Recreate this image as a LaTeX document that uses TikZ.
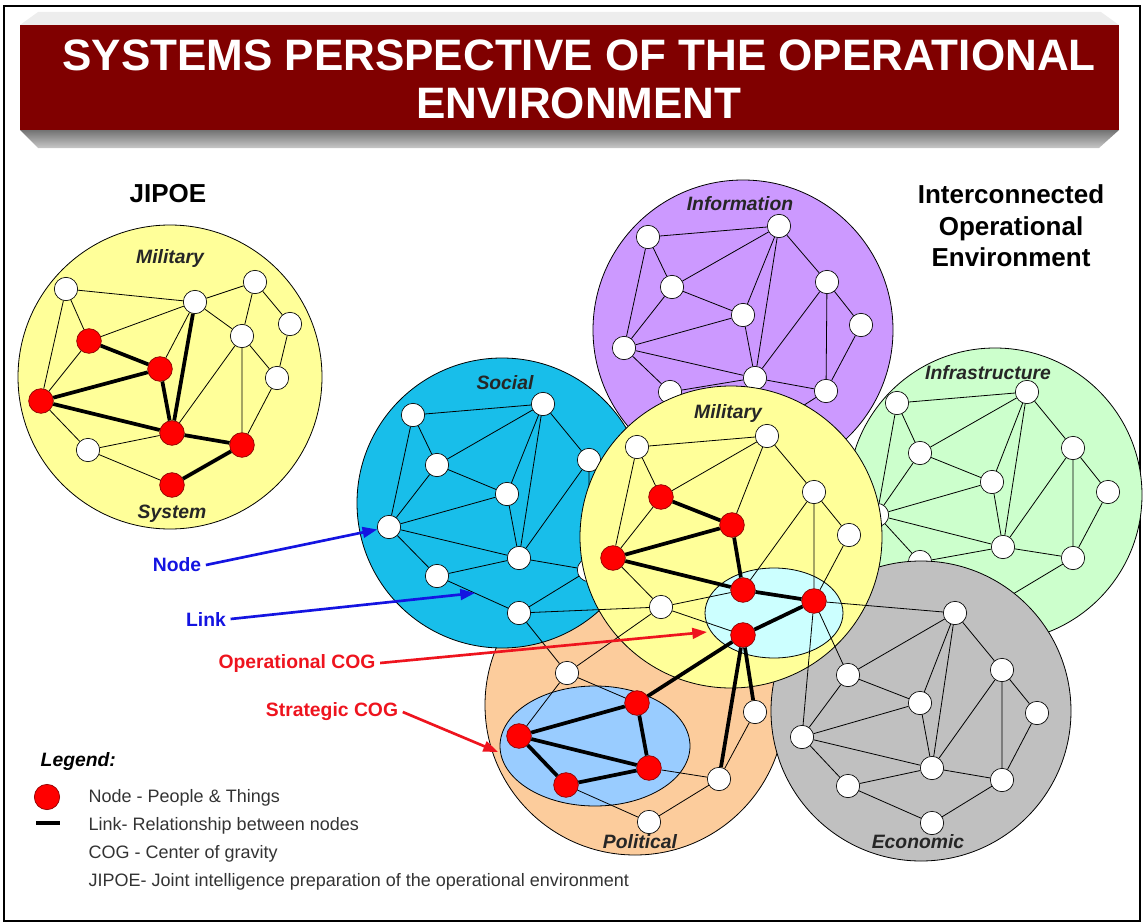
\documentclass[tikz,border=0pt]{standalone}
\usepackage{fontspec}
\setmainfont{Liberation Sans}
\usetikzlibrary{arrows.meta}
\usetikzlibrary{positioning}
\definecolor{banner_red}{RGB}{128,0,0}
\definecolor{mil_yellow}{RGB}{255,255,153}
\definecolor{info_purple}{RGB}{204,153,255}
\definecolor{soc_blue}{RGB}{24,190,234}
\definecolor{infra_green}{RGB}{204,255,204}
\definecolor{pol_orange}{RGB}{252,204,156}
\definecolor{eco_grey}{RGB}{192,192,192}
\definecolor{op_cyan}{RGB}{204,255,255}
\definecolor{strat_blue}{RGB}{153,204,255}
\definecolor{pointer_blue}{RGB}{20,20,225}
\definecolor{pointer_red}{RGB}{238,20,30}
\tikzstyle{white_node} = [
    circle,
    draw=black,
    fill=white,
    line width=0.5pt,
    inner sep=0pt,
    minimum size=17.5pt
]
\tikzstyle{red_node} = [
    circle,
    draw=red!55!black,
    fill=red,
    line width=0.5pt,
    inner sep=0pt,
    minimum size=18.5pt
]
\tikzstyle{thin_link} = [line width=0.6pt]
\tikzstyle{thick_link} = [line width=2.8pt]
\tikzstyle{sys_circle} = [draw=black, line width=0.6pt]
\tikzstyle{sys_name} = [
    font=\fontsize{14.5}{17}\selectfont\bfseries\itshape,
    text=black!85
]
\tikzstyle{heading} = [
    font=\fontsize{19.5}{23.6}\selectfont\bfseries,
    align=center
]
\tikzstyle{banner_text} = [
    white,
    font=\fontsize{33}{36}\selectfont\bfseries,
    align=center
]
\tikzstyle{blue_label} = [text=pointer_blue, font=\fontsize{14.5}{17}\selectfont\bfseries]
\tikzstyle{red_label} = [text=pointer_red, font=\fontsize{14.5}{17}\selectfont\bfseries]
\tikzstyle{blue_pointer} = [draw=pointer_blue, line width=2pt, -{Triangle[length=11pt, width=8pt]}]
\tikzstyle{red_pointer} = [draw=pointer_red, line width=2pt, -{Triangle[length=11pt, width=8pt]}]
\tikzstyle{legend_text} = [
    anchor=west,
    text=black!80,
    font=\fontsize{13.5}{16}\selectfont
]

\begin{document}
\begin{tikzpicture}[x=0.75pt, y=-0.75pt]
\useasboundingbox (0,0) rectangle (1143,924);
\draw[line width=0.8pt] (4,6) rectangle (1140,921);

% title banner
\fill[black!7] (20,25) -- (38,12) -- (1101,12) -- (1119,25) -- cycle;
\shade[top color=black!55, bottom color=black!22] (20,130) -- (1119,130) -- (1099,148) -- (38,148) -- cycle;
\fill[banner_red] (20,25) rectangle (1119,130);
\node[banner_text] (title) at (579,79) {SYSTEMS PERSPECTIVE OF THE OPERATIONAL\\ENVIRONMENT};

% infrastructure
\draw[sys_circle, fill=infra_green] (995,495) circle [radius=147];
\node[sys_name] (infra_name) at (988,373) {Infrastructure};
\node[white_node] (infra_tl) at (897,403) {};
\node[white_node] (infra_t) at (1027,392) {};
\node[white_node] (infra_s) at (920,453) {};
\node[white_node] (infra_r1) at (1073,448) {};
\node[white_node] (infra_m) at (992,482) {};
\node[white_node] (infra_r2) at (1108,492) {};
\node[white_node] (infra_l) at (877,515) {};
\node[white_node] (infra_b) at (1003,547) {};
\node[white_node] (infra_r3) at (1073,558) {};
\node[white_node] (infra_bl) at (920,562) {};
\node[white_node] (infra_bb) at (1003,600) {};
\draw[thin_link] (infra_tl) -- (infra_t) (infra_tl) -- (infra_s) (infra_tl) -- (infra_l)
    (infra_s) -- (infra_t) (infra_s) -- (infra_m) (infra_s) -- (infra_l)
    (infra_t) -- (infra_m) (infra_t) -- (infra_b) (infra_t) -- (infra_r1)
    (infra_r1) -- (infra_r2) (infra_r1) -- (infra_r3) (infra_r1) -- (infra_b) (infra_r2) -- (infra_r3)
    (infra_m) -- (infra_l) (infra_m) -- (infra_b) (infra_l) -- (infra_b) (infra_l) -- (infra_bl)
    (infra_bl) -- (infra_b) (infra_b) -- (infra_r3) (infra_bl) -- (infra_bb) (infra_r3) -- (infra_bb);

% information
\draw[sys_circle, fill=info_purple] (743,330) circle [radius=150];
\node[sys_name] (info_name) at (740,204) {Information};
\node[white_node] (info_tl) at (648,237) {};
\node[white_node] (info_t) at (779,226) {};
\node[white_node] (info_s) at (672,287) {};
\node[white_node] (info_r1) at (827,282) {};
\node[white_node] (info_m) at (743,315) {};
\node[white_node] (info_r2) at (861,325) {};
\node[white_node] (info_l) at (624,348) {};
\node[white_node] (info_b) at (755,378) {};
\node[white_node] (info_r3) at (826,391) {};
\node[white_node] (info_bl) at (670,392) {};
\node[white_node] (info_bb) at (756,436) {};
\draw[thin_link] (info_tl) -- (info_t) (info_tl) -- (info_s) (info_tl) -- (info_l)
    (info_s) -- (info_t) (info_s) -- (info_m) (info_s) -- (info_l)
    (info_t) -- (info_m) (info_t) -- (info_b) (info_t) -- (info_r1)
    (info_r1) -- (info_r2) (info_r1) -- (info_r3) (info_r1) -- (info_b) (info_r2) -- (info_r3)
    (info_m) -- (info_l) (info_m) -- (info_b) (info_l) -- (info_b) (info_l) -- (info_bl)
    (info_bl) -- (info_b) (info_b) -- (info_r3) (info_bl) -- (info_bb) (info_r3) -- (info_bb);

% political
\draw[sys_circle, fill=pol_orange] (635,705) circle [radius=150];
\draw[sys_circle, fill=strat_blue] (595,746) ellipse [x radius=95, y radius=60];
\node[sys_name] (pol_name) at (640,842) {Political};
\node[white_node] (pol_w1) at (567,673) {};
\node[white_node] (pol_w2) at (755,712) {};
\node[white_node] (pol_w3) at (719,779) {};
\node[white_node] (pol_w4) at (649,822) {};
\node[red_node] (pol_r1) at (637,703) {};
\node[red_node] (pol_r2) at (519,736) {};
\node[red_node] (pol_r3) at (649,768) {};
\node[red_node] (pol_r4) at (566,785) {};
\draw[thin_link] (pol_w1) -- (pol_r1) (pol_w1) -- (pol_r2) (pol_r3) -- (pol_w3)
    (pol_w3) -- (pol_w2) (pol_w3) -- (pol_w4) (pol_w4) -- (pol_r4);
\draw[thick_link] (pol_r1) -- (pol_r2) (pol_r1) -- (pol_r3) (pol_r2) -- (pol_r3)
    (pol_r2) -- (pol_r4) (pol_r4) -- (pol_r3);

% economic
\draw[sys_circle, fill=eco_grey] (921,711) circle [radius=150];
\node[sys_name] (eco_name) at (918,842) {Economic};
\node[white_node] (eco_t) at (955,613) {};
\node[white_node] (eco_s) at (848,675) {};
\node[white_node] (eco_r1) at (1002,670) {};
\node[white_node] (eco_m) at (920,703) {};
\node[white_node] (eco_r2) at (1037,713) {};
\node[white_node] (eco_l) at (802,737) {};
\node[white_node] (eco_b) at (932,768) {};
\node[white_node] (eco_r3) at (1002,780) {};
\node[white_node] (eco_bl) at (848,786) {};
\node[white_node] (eco_bb) at (932,823) {};
\draw[thin_link] (eco_s) -- (eco_t) (eco_s) -- (eco_m) (eco_s) -- (eco_l)
    (eco_t) -- (eco_m) (eco_t) -- (eco_b) (eco_t) -- (eco_r1)
    (eco_r1) -- (eco_r2) (eco_r1) -- (eco_r3) (eco_r1) -- (eco_b) (eco_r2) -- (eco_r3)
    (eco_m) -- (eco_l) (eco_m) -- (eco_b) (eco_l) -- (eco_b) (eco_l) -- (eco_bl)
    (eco_bl) -- (eco_b) (eco_b) -- (eco_r3) (eco_bl) -- (eco_bb) (eco_r3) -- (eco_bb);

% social
\draw[sys_circle, fill=soc_blue] (502,503) circle [radius=145];
\node[sys_name] (soc_name) at (505,383) {Social};
\node[white_node] (soc_tl) at (413,415) {};
\node[white_node] (soc_t) at (543,404) {};
\node[white_node] (soc_s) at (437,465) {};
\node[white_node] (soc_r1) at (589,460) {};
\node[white_node] (soc_m) at (507,494) {};
\node[white_node] (soc_r2) at (624,504) {};
\node[white_node] (soc_l) at (389,527) {};
\node[white_node] (soc_b) at (519,558) {};
\node[white_node] (soc_r3) at (589,570) {};
\node[white_node] (soc_bl) at (437,576) {};
\node[white_node] (soc_bb) at (519,613) {};
\draw[thin_link] (soc_tl) -- (soc_t) (soc_tl) -- (soc_s) (soc_tl) -- (soc_l)
    (soc_s) -- (soc_t) (soc_s) -- (soc_m) (soc_s) -- (soc_l)
    (soc_t) -- (soc_m) (soc_t) -- (soc_b) (soc_t) -- (soc_r1)
    (soc_r1) -- (soc_r2) (soc_r1) -- (soc_r3) (soc_r1) -- (soc_b) (soc_r2) -- (soc_r3)
    (soc_m) -- (soc_l) (soc_m) -- (soc_b) (soc_l) -- (soc_b) (soc_l) -- (soc_bl)
    (soc_bl) -- (soc_b) (soc_b) -- (soc_r3) (soc_bl) -- (soc_bb) (soc_r3) -- (soc_bb);

% military
\draw[sys_circle, fill=mil_yellow] (731,537) circle [radius=151];
\draw[sys_circle, fill=op_cyan] (774,613) ellipse [x radius=69, y radius=45];
\node[sys_name] (mil_name) at (728,413) {Military};
\node[white_node] (mil_tl) at (637,447) {};
\node[white_node] (mil_t) at (767,436) {};
\node[red_node] (mil_s) at (661,497) {};
\node[white_node] (mil_r1) at (814,492) {};
\node[red_node] (mil_m) at (732,525) {};
\node[white_node] (mil_r2) at (849,535) {};
\node[red_node] (mil_l) at (613,558) {};
\node[red_node] (mil_b) at (743,590) {};
\node[red_node] (mil_r3) at (814,601) {};
\node[white_node] (mil_bl) at (661,607) {};
\node[red_node] (mil_bb) at (743,635) {};
\draw[thin_link] (mil_tl) -- (mil_t) (mil_tl) -- (mil_s) (mil_tl) -- (mil_l)
    (mil_s) -- (mil_t) (mil_s) -- (mil_l) (mil_t) -- (mil_m) (mil_t) -- (mil_r1)
    (mil_r1) -- (mil_r2) (mil_r1) -- (mil_r3) (mil_r1) -- (mil_b) (mil_r2) -- (mil_r3)
    (mil_l) -- (mil_bl) (mil_bl) -- (mil_b) (mil_bl) -- (mil_bb);
\draw[thick_link] (mil_s) -- (mil_m) (mil_m) -- (mil_l) (mil_m) -- (mil_b) (mil_l) -- (mil_b)
    (mil_b) -- (mil_r3) (mil_r3) -- (mil_bb);

% links between the systems
\draw[thin_link] (soc_bb) -- (mil_bl) (mil_bl) -- (pol_w1) (soc_bb) -- (pol_w1)
    (mil_r3) -- (eco_t) (mil_r3) -- (eco_s) (mil_r3) -- (eco_l);
\draw[thick_link] (mil_bb) -- (pol_r1) (mil_bb) -- (pol_w3) (mil_bb) -- (pol_w2);

% jipoe
\node[heading] (jipoe_title) at (168,194) {JIPOE};
\draw[sys_circle, fill=mil_yellow] (170,377) circle [radius=152];
\node[sys_name] (jip_name) at (170,258) {Military};
\node[sys_name] (jip_system) at (172,514) {System};
\node[white_node] (jip_w1) at (66,289) {};
\node[white_node] (jip_w2) at (195,302) {};
\node[white_node] (jip_w3) at (255,282) {};
\node[white_node] (jip_w4) at (290,324) {};
\node[white_node] (jip_w5) at (242,336) {};
\node[white_node] (jip_w6) at (277,378) {};
\node[white_node] (jip_w7) at (88,450) {};
\node[red_node] (jip_r1) at (89,341) {};
\node[red_node] (jip_r2) at (160,369) {};
\node[red_node] (jip_r3) at (41,401) {};
\node[red_node] (jip_r4) at (172,433) {};
\node[red_node] (jip_r5) at (242,445) {};
\node[red_node] (jip_r6) at (172,485) {};
\draw[thin_link] (jip_w1) -- (jip_w2) (jip_w1) -- (jip_r1) (jip_w1) -- (jip_r3)
    (jip_w2) -- (jip_w3) (jip_w2) -- (jip_r1) (jip_w2) -- (jip_r2) (jip_w2) -- (jip_w5)
    (jip_w3) -- (jip_w5) (jip_w3) -- (jip_w4) (jip_w4) -- (jip_w6) (jip_w5) -- (jip_w6)
    (jip_w5) -- (jip_r4) (jip_w5) -- (jip_r5) (jip_w6) -- (jip_r5) (jip_r1) -- (jip_r3)
    (jip_r3) -- (jip_w7) (jip_r4) -- (jip_w7) (jip_w7) -- (jip_r6);
\draw[thick_link] (jip_r1) -- (jip_r2) (jip_r2) -- (jip_r3) (jip_r3) -- (jip_r4)
    (jip_r2) -- (jip_r4) (jip_w2) -- (jip_r4) (jip_r4) -- (jip_r5) (jip_r5) -- (jip_r6);

\node[heading] (ioe_title) at (1011,226) {Interconnected\\Operational\\Environment};

% pointers
\coordinate (link_tip) at (475,593);
\coordinate (op_tip) at (707,632);
\coordinate (strat_tip) at (498,752);
\node[blue_label] (node_label) at (177,565) {Node};
\node[blue_label] (link_label) at (206,619) {Link};
\node[red_label] (op_label) at (297,663) {Operational COG};
\node[red_label] (strat_label) at (332,712) {Strategic COG};
\draw[blue_pointer] (node_label.east) -- (soc_l);
\draw[blue_pointer] (link_label.east) -- (link_tip);
\draw[red_pointer] (op_label.east) -- (op_tip);
\draw[red_pointer] (strat_label.east) -- (strat_tip);

% legend
\node[anchor=west, font=\fontsize{14.5}{17}\selectfont\bfseries\itshape] (legend) at (36,761) {Legend:};
\node[red_node, minimum size=19pt] (legend_dot) at (47,797) {};
\coordinate (legend_a) at (36,823);
\coordinate (legend_b) at (60,823);
\draw[line width=3.2pt] (legend_a) -- (legend_b);
\node[legend_text] (legend_1) at (84,798) {Node - People \& Things};
\node[legend_text] (legend_2) at (84,826) {Link- Relationship between nodes};
\node[legend_text] (legend_3) at (84,854) {COG - Center of gravity};
\node[legend_text] (legend_4) at (84,882) {JIPOE- Joint intelligence preparation of the operational environment};
\end{tikzpicture}
\end{document}
